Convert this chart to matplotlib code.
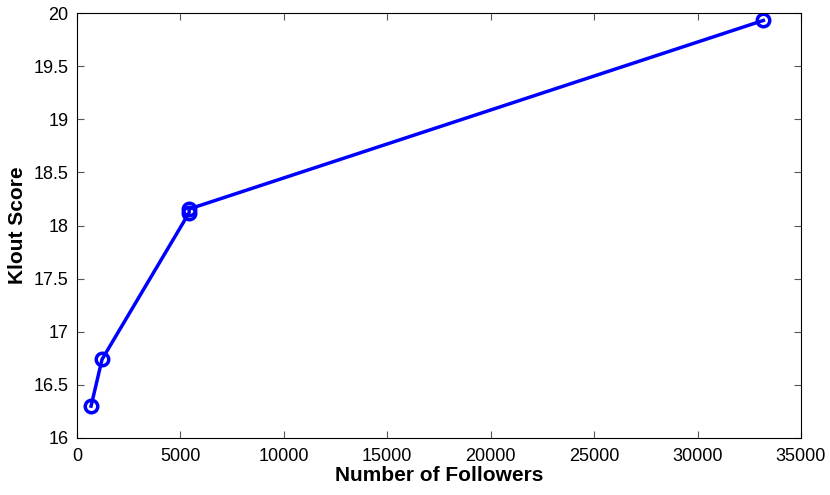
import matplotlib
matplotlib.use("Agg")
import matplotlib.pyplot as plt

followers = [680, 1210, 5420, 5420, 33180]
klout = [16.30, 16.74, 18.12, 18.155, 19.93]
x_ticks = [0, 5000, 10000, 15000, 20000, 25000, 30000, 35000]
y_ticks = [16, 16.5, 17, 17.5, 18, 18.5, 19, 19.5, 20]

plt.rcParams["font.family"] = ["Liberation Sans", "DejaVu Sans"]

fig = plt.figure(figsize=(8.3, 4.95), dpi=100)
ax = fig.add_axes([77 / 830, 1 - 438 / 495, 724 / 830, 425 / 495])

ax.plot(followers, klout, color="#0000ff", linewidth=2.5, marker="o",
        markersize=9, markerfacecolor="none", markeredgewidth=2.5)

ax.set_xlim(0, 35000)
ax.set_ylim(16, 20)
ax.set_xticks(x_ticks)
ax.set_yticks(y_ticks)
ax.set_yticklabels([f"{v:g}" for v in y_ticks])
ax.tick_params(direction="in", labelsize=13, length=5, top=True, right=True,
               color="#555555")
ax.tick_params(axis="x", pad=7)
ax.tick_params(axis="y", pad=6)
for s in ax.spines.values():
    s.set_linewidth(0.8)

ax.set_xlabel("Number of Followers", fontsize=15, fontweight="bold", labelpad=1)
ax.set_ylabel("Klout Score", fontsize=15, fontweight="bold", labelpad=5)

fig.savefig("out.png", dpi=100)
